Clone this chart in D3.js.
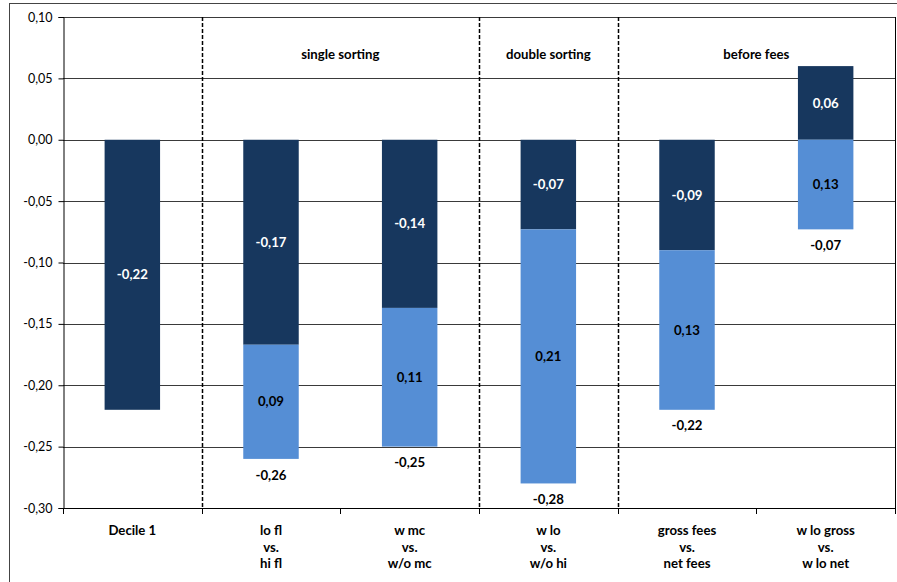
<!DOCTYPE html>
<html>
<head>
<meta charset="utf-8">
<script src="https://cdn.jsdelivr.net/npm/d3@7"></script>
<style>
  html, body { margin: 0; padding: 0; background: #fff; }
  svg { display: block; font-family: Lato, "Open Sans", sans-serif; }
</style>
</head>
<body>
<svg id="chart" width="897" height="582"></svg>
<script>
// Categories (multi-line axis labels)
const categories = ["Decile 1", "lo fl|vs.|hi fl", "w mc|vs.|w/o mc", "w lo|vs.|w/o hi", "gross fees|vs.|net fees", "w lo gross|vs.|w lo net"];
// First component (dark segment), signed
const darkValues = [-0.22, -0.167, -0.137, -0.073, -0.090, 0.060];
// Combined end value (bottom of the light segment); null where there is none
const totalValues = [null, -0.26, -0.25, -0.28, -0.22, -0.073];
// Section headers spanning groups of categories
const sectionNames = ["single sorting", "double sorting", "before fees"];
const sectionFirst = [1, 3, 4];
const sectionLast = [2, 3, 5];
// Y axis ticks
const yTicks = [0.10, 0.05, 0.00, -0.05, -0.10, -0.15, -0.20, -0.25, -0.30];

const darkColor = "#17375E";
const lightColor = "#558ED5";
const labelSize = 13.2;

const svg = d3.select("#chart");
const plot = { left: 63, right: 895, top: 17, bottom: 508 };

// two decimals, comma separator, plain hyphen for negatives
const fmt = v => d3.format(".2f")(v).replace("\u2212", "-").replace(".", ",");

const x = d3.scaleBand().domain(d3.range(categories.length)).range([plot.left, plot.right]).padding(0);
const y = d3.scaleLinear().domain([-0.30, 0.10]).range([plot.bottom, plot.top]);
const barW = x.bandwidth() * 0.4;
const cx = i => x(i) + x.bandwidth() / 2;

// Outer frame
svg.append("rect")
  .attr("x", 9.5).attr("y", 3.5).attr("width", 900).attr("height", 600)
  .attr("fill", "none").attr("stroke", "#444").attr("stroke-width", 1);

// Horizontal gridlines
svg.append("g").selectAll("line").data(yTicks).join("line")
  .attr("x1", plot.left).attr("x2", plot.right)
  .attr("y1", d => Math.round(y(d)) + 0.5).attr("y2", d => Math.round(y(d)) + 0.5)
  .attr("stroke", "#3a3a3a").attr("stroke-width", 1);

// Right border of the plot
svg.append("line")
  .attr("x1", plot.right + 0.5).attr("x2", plot.right + 0.5)
  .attr("y1", plot.top).attr("y2", plot.bottom)
  .attr("stroke", "#000");

// Y axis
const yAxis = d3.axisLeft(y).tickValues(yTicks).tickSize(5).tickPadding(6).tickFormat(fmt);
const gy = svg.append("g").attr("transform", `translate(${plot.left + 0.5},0)`).call(yAxis);
gy.select(".domain").attr("stroke", "#000");
gy.selectAll(".tick line").attr("stroke", "#000");
gy.selectAll(".tick text").attr("font-size", 12.5).attr("fill", "#000")
  .attr("font-family", "Lato, 'Open Sans', sans-serif");

// X axis: baseline with ticks at band boundaries
svg.append("line")
  .attr("x1", plot.left).attr("x2", plot.right + 1)
  .attr("y1", plot.bottom + 0.5).attr("y2", plot.bottom + 0.5)
  .attr("stroke", "#000");
const boundaries = d3.range(categories.length + 1).map(i => i < categories.length ? x(i) : plot.right);
svg.append("g").selectAll("line").data(boundaries).join("line")
  .attr("x1", d => Math.round(d) + 0.5).attr("x2", d => Math.round(d) + 0.5)
  .attr("y1", plot.bottom).attr("y2", plot.bottom + 6)
  .attr("stroke", "#000");

// Category labels
const xl = svg.append("g").selectAll("text").data(categories).join("text")
  .attr("x", (d, i) => cx(i)).attr("y", 535)
  .attr("text-anchor", "middle").attr("font-size", labelSize).attr("font-weight", "bold").attr("fill", "#000");
xl.each(function(d) {
  const lines = d.split("|");
  d3.select(this).selectAll("tspan").data(lines).join("tspan")
    .attr("x", d3.select(this).attr("x"))
    .attr("dy", (l, k) => k === 0 ? 0 : 16.5)
    .text(l => l);
});

// Section dividers (dashed) and headers
const dividerX = sectionFirst.map(i => x(i));
svg.append("g").selectAll("line").data(dividerX).join("line")
  .attr("x1", d => Math.round(d) + 0.5).attr("x2", d => Math.round(d) + 0.5)
  .attr("y1", plot.top).attr("y2", plot.bottom)
  .attr("stroke", "#000").attr("stroke-width", 1.5).attr("stroke-dasharray", "4,2");

svg.append("g").selectAll("text").data(sectionNames).join("text")
  .attr("x", (d, k) => (x(sectionFirst[k]) + x(sectionLast[k]) + x.bandwidth()) / 2)
  .attr("y", 54).attr("dy", "0.35em")
  .attr("text-anchor", "middle").attr("font-size", labelSize).attr("font-weight", "bold").attr("fill", "#000")
  .text(d => d);

// Bars
const bars = svg.append("g");
categories.forEach((c, i) => {
  const dv = darkValues[i];
  const tv = totalValues[i];
  const x0 = cx(i) - barW / 2;
  // dark segment from zero to its value
  bars.append("rect")
    .attr("x", x0).attr("width", barW)
    .attr("y", y(Math.max(0, dv))).attr("height", Math.abs(y(dv) - y(0)))
    .attr("fill", darkColor);
  bars.append("text")
    .attr("x", cx(i)).attr("y", (y(dv) + y(0)) / 2).attr("dy", "0.35em")
    .attr("text-anchor", "middle").attr("font-size", labelSize).attr("font-weight", "bold").attr("fill", "#fff")
    .text(fmt(dv));
  if (tv !== null) {
    // light segment continues from the dark one (or from zero) down to the combined value
    const start = Math.min(0, dv);
    bars.append("rect")
      .attr("x", x0).attr("width", barW)
      .attr("y", y(start)).attr("height", y(tv) - y(start))
      .attr("fill", lightColor);
    bars.append("text")
      .attr("x", cx(i)).attr("y", (y(start) + y(tv)) / 2).attr("dy", "0.35em")
      .attr("text-anchor", "middle").attr("font-size", labelSize).attr("font-weight", "bold").attr("fill", "#000")
      .text(fmt(dv - tv));
    bars.append("text")
      .attr("x", cx(i)).attr("y", y(tv) + 16).attr("dy", "0.35em")
      .attr("text-anchor", "middle").attr("font-size", labelSize).attr("font-weight", "bold").attr("fill", "#000")
      .text(fmt(tv));
  }
});
</script>
</body>
</html>
